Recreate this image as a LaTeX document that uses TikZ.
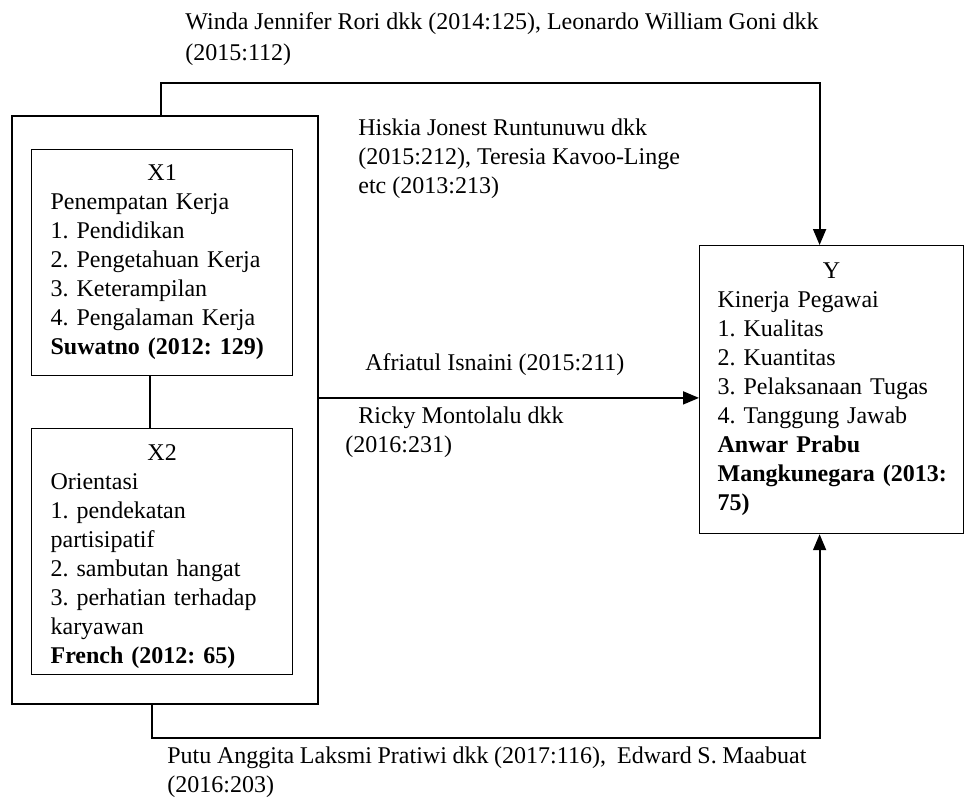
\documentclass[tikz,border=0pt]{standalone}
\usepackage{fontspec}
\setmainfont{Liberation Serif}
\usetikzlibrary{arrows.meta,positioning,calc}

\begin{document}
\frenchspacing
\begin{tikzpicture}[
    x=0.5pt, y=-0.5pt,
    font=\fontsize{12pt}{14.5pt}\selectfont,
    outer/.style={rectangle, draw, line width=0.9pt, anchor=north west},
    box/.style={rectangle, draw, line width=0.6pt, anchor=north west, inner xsep=9.5pt, inner ysep=0pt, text width=111.5pt, align=left, minimum width=130.5pt},
    cite/.style={inner sep=0pt, align=left, anchor=north west},
    arrow/.style={-{Triangle[length=8pt, width=6.5pt]}, line width=0.9pt},
    link/.style={line width=0.9pt}
]
    \useasboundingbox (0,0) rectangle (967,798);

    % Variables X1 and X2
    \node[outer, minimum width=153pt, minimum height=294pt] (frame) at (11,115) {};
    \node[box, minimum height=113pt] (xone) at (31,149) {\makebox[\linewidth]{X1}\\Penempatan Kerja\\1. Pendidikan\\2. Pengetahuan Kerja\\3. Keterampilan\\4. Pengalaman Kerja\\\textbf{Suwatno (2012: 129)}};
    \node[box, below=26pt of xone, minimum height=123pt] (xtwo) {\makebox[\linewidth]{\rule{0pt}{13pt}X2}\\Orientasi\\1. pendekatan\\partisipatif\\2. sambutan hangat\\3. perhatian terhadap\\karyawan\\\textbf{French (2012: 65)}};

    % Variable Y
    \node[box, minimum width=132pt, minimum height=144pt, text width=114pt, inner xsep=9pt] (yvar) at (699,245) {\makebox[\linewidth]{Y}\\Kinerja Pegawai\\1. Kualitas\\2. Kuantitas\\3. Pelaksanaan Tugas\\4. Tanggung Jawab\\\textbf{Anwar Prabu}\\\textbf{\mbox{Mangkunegara (2013:}}\\\textbf{75)}};

    % Connectors
    \coordinate (mid) at ([yshift=6pt]frame.east);
    \draw[link] ([xshift=-6.25pt]xone.south) -- ([xshift=-6.25pt]xtwo.north);
    \draw[arrow] ([xshift=-2pt]frame.north) -- ++(0,-32) -| ([xshift=-6pt]yvar.north);
    \draw[arrow] (mid) -- (mid -| yvar.west);
    \draw[arrow] ([xshift=-6.5pt]frame.south) -- ++(0,33) -| ([xshift=-6pt]yvar.south);

    % References
    \node[cite] (topref) at (185,12) {Winda Jennifer Rori dkk (2014:125), Leonardo William Goni dkk\\[1pt](2015:112)};
    \node[cite] (midref) at (358,118) {Hiskia Jonest Runtunuwu dkk\\(2015:212), Teresia Kavoo-Linge\\etc (2013:213)};
    \node[cite, anchor=base west] (arrowref) at (365,370) {Afriatul Isnaini (2015:211)};
    \node[cite] (lowref) at (345,406) {\hspace*{6.5pt}Ricky Montolalu dkk\\(2016:231)};
    \node[cite] (botref) at (167,746) {\makebox[319.5pt][s]{Putu Anggita Laksmi Pratiwi dkk (2017:116), \ Edward S. Maabuat}\\(2016:203)};
\end{tikzpicture}
\end{document}
